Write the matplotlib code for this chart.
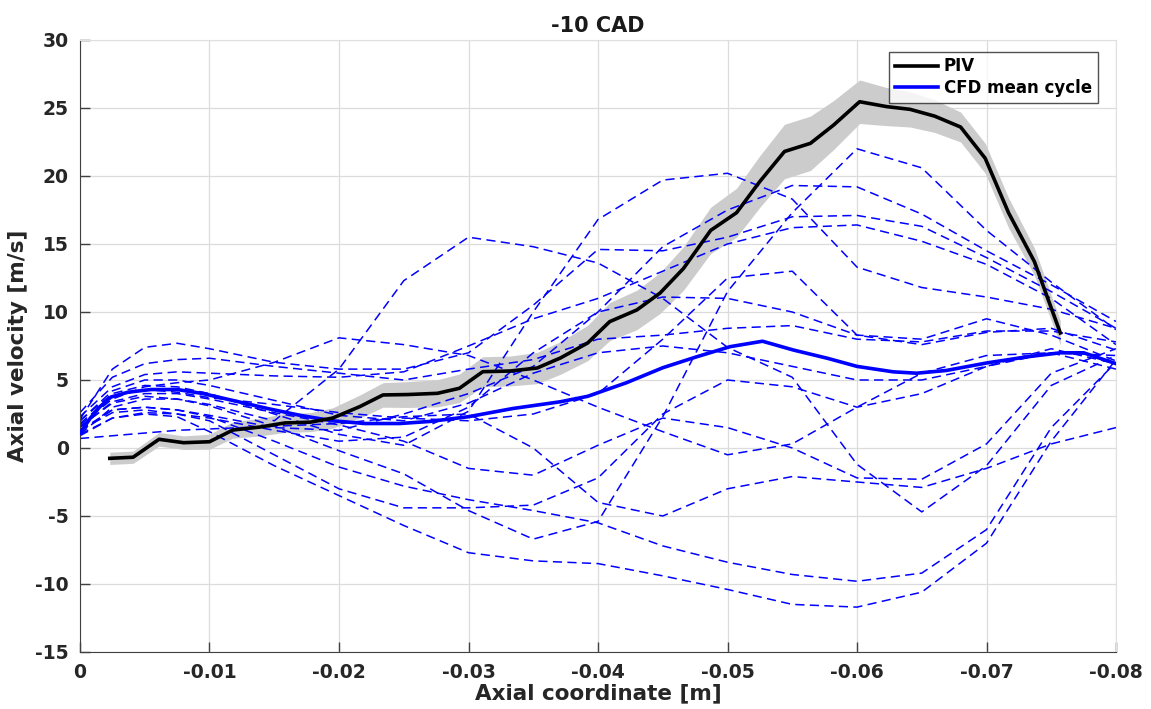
import numpy as np
import matplotlib
matplotlib.use('Agg')
import matplotlib.pyplot as plt

# PIV measurement (mean and spread)
x_piv = [-0.0023, -0.0041, -0.0061, -0.0080, -0.0100, -0.0118, -0.0139, -0.0158, -0.0178, -0.0195,
         -0.0216, -0.0234, -0.0253, -0.0276, -0.0293, -0.0311, -0.0332, -0.0353, -0.0371, -0.0392,
         -0.0409, -0.0430, -0.0448, -0.0466, -0.0487, -0.0507, -0.0525, -0.0544, -0.0564, -0.0582,
         -0.0602, -0.0623, -0.0641, -0.0660, -0.0680, -0.0699, -0.0717, -0.0737, -0.0757]
v_piv = [-0.76, -0.68, 0.64, 0.39, 0.46, 1.32, 1.54, 1.84, 1.90, 2.20,
         3.04, 3.90, 3.93, 4.02, 4.39, 5.61, 5.66, 5.88, 6.62, 7.72,
         9.29, 10.15, 11.40, 13.20, 16.00, 17.30, 19.60, 21.80, 22.40, 23.75,
         25.46, 25.10, 24.90, 24.40, 23.60, 21.30, 17.30, 13.70, 8.46]
s_piv = [0.45, 0.45, 0.50, 0.50, 0.55, 0.60, 0.65, 0.70, 0.70, 0.75,
         0.85, 0.90, 0.95, 1.00, 1.05, 1.10, 1.10, 1.15, 1.20, 1.30,
         1.40, 1.45, 1.50, 1.60, 1.70, 1.80, 1.90, 2.00, 2.00, 1.80,
         1.60, 1.40, 1.30, 1.20, 1.10, 1.10, 1.10, 1.00, 0.90]

# CFD mean cycle
x_mean = [0, -0.0008, -0.0015, -0.0024, -0.0037, -0.0055, -0.0075, -0.0095, -0.012, -0.0145,
          -0.017, -0.0195, -0.022, -0.0247, -0.027, -0.030, -0.0334, -0.0371, -0.0392, -0.0422,
          -0.045, -0.0476, -0.0502, -0.0527, -0.0551, -0.0577, -0.060, -0.0628, -0.0646, -0.0669,
          -0.070, -0.0731, -0.0757, -0.0775, -0.080]
v_mean = [1.1, 2.2, 3.0, 3.75, 4.1, 4.3, 4.3, 4.0, 3.45, 2.9,
          2.4, 2.0, 1.8, 1.8, 1.95, 2.3, 2.9, 3.4, 3.8, 4.8,
          5.9, 6.7, 7.45, 7.85, 7.2, 6.6, 6.0, 5.6, 5.5, 5.7,
          6.25, 6.7, 7.0, 7.0, 6.2]

# CFD individual cycles
x_cyc = [0, -0.0025, -0.005, -0.0075, -0.01, -0.015, -0.02, -0.025, -0.03, -0.035,
         -0.04, -0.045, -0.05, -0.055, -0.06, -0.065, -0.07, -0.075, -0.08]
cycle_01 = [1.6, 3.3, 3.8, 3.6, 3.2, 2.0, 5.8, 12.3, 15.5, 14.8, 13.6, 11.0, 7.4, 5.2, -1.2, -4.7, -1.3, 4.6, 6.8]
cycle_02 = [1.0, 3.0, 3.6, 3.6, 3.1, 1.6, -0.2, -1.9, -4.6, -6.7, -5.4, 2.3, 11.5, 17.3, 22.0, 20.6, 16.0, 12.2, 8.7]
cycle_03 = [2.0, 4.0, 4.6, 4.5, 4.0, 2.5, 1.0, 0.2, 2.7, 10.0, 16.8, 19.7, 20.2, 18.3, 13.3, 11.8, 11.1, 10.2, 8.8]
cycle_04 = [1.3, 2.8, 3.0, 2.8, 2.4, 1.5, 1.3, 2.5, 4.0, 6.0, 10.0, 14.8, 17.5, 19.3, 19.2, 17.2, 14.5, 12.0, 9.3]
cycle_05 = [2.1, 5.8, 7.4, 7.7, 7.3, 6.3, 5.8, 5.8, 7.0, 10.5, 14.6, 14.5, 15.5, 17.0, 17.1, 16.3, 14.0, 11.5, 8.8]
cycle_06 = [2.3, 4.5, 5.4, 5.6, 5.5, 5.3, 5.2, 5.6, 7.5, 9.5, 11.0, 13.0, 15.0, 16.2, 16.4, 15.2, 13.5, 11.0, 7.6]
cycle_07 = [0.9, 2.2, 2.6, 2.5, 2.2, 1.3, 0.5, 0.8, 3.0, 7.0, 10.0, 11.1, 11.0, 10.0, 8.3, 8.0, 9.5, 8.3, 6.4]
cycle_08 = [1.8, 3.8, 4.3, 4.1, 3.7, 3.2, 2.6, 2.2, 2.0, 2.5, 4.0, 8.0, 12.5, 13.0, 8.3, 7.6, 8.5, 8.8, 7.2]
cycle_09 = [1.0, 2.2, 2.5, 2.3, 1.2, -1.3, -3.5, -5.7, -7.7, -8.3, -8.5, -9.4, -10.4, -11.5, -11.7, -10.6, -7.0, 0.5, 6.5]
cycle_10 = [1.2, 2.8, 3.0, 2.8, 2.3, 0.5, -1.4, -2.8, -3.8, -4.6, -5.5, -7.2, -8.4, -9.3, -9.8, -9.2, -6.0, 1.5, 6.3]
cycle_11 = [0.7, 0.9, 1.1, 1.3, 1.4, 1.6, 1.8, 2.3, 2.5, 0.0, -4.0, -5.0, -3.0, -2.1, -2.5, -2.9, -1.5, 0.3, 1.5]
cycle_12 = [1.5, 3.4, 4.0, 4.0, 3.6, 2.6, 1.7, 0.5, -1.5, -2.0, 0.2, 2.2, 1.5, 0.0, -2.2, -2.3, 0.3, 5.5, 7.3]
cycle_13 = [2.0, 4.2, 5.0, 5.0, 4.6, 3.5, 2.4, 2.0, 3.3, 5.5, 7.0, 7.5, 7.0, 6.0, 5.0, 5.0, 6.0, 7.3, 6.2]
cycle_14 = [1.7, 3.6, 4.5, 4.8, 5.0, 6.3, 8.1, 7.6, 6.8, 5.0, 3.0, 1.2, -0.5, 0.3, 3.0, 5.5, 6.8, 7.0, 5.8]
cycle_15 = [2.6, 5.2, 6.2, 6.5, 6.6, 6.0, 5.5, 5.0, 5.8, 6.5, 8.0, 8.3, 8.8, 9.0, 8.0, 7.8, 8.6, 8.6, 7.8]
cycle_16 = [1.3, 2.6, 2.8, 2.5, 2.0, -0.5, -3.0, -4.4, -4.4, -4.2, -2.2, 2.5, 5.0, 4.5, 3.0, 4.0, 6.0, 7.0, 6.8]
cycles = [cycle_01, cycle_02, cycle_03, cycle_04, cycle_05, cycle_06, cycle_07, cycle_08,
          cycle_09, cycle_10, cycle_11, cycle_12, cycle_13, cycle_14, cycle_15, cycle_16]

x_ticks = [0, -0.01, -0.02, -0.03, -0.04, -0.05, -0.06, -0.07, -0.08]
y_ticks = [-15, -10, -5, 0, 5, 10, 15, 20, 25, 30]

plt.rcParams['font.family'] = 'DejaVu Sans'
plt.rcParams['font.weight'] = 'bold'

fig = plt.figure(figsize=(11.51, 7.09), dpi=100)
ax = fig.add_axes([0.0695, 0.0804, 0.9001, 0.8632])

xp = np.array(x_piv)
vp = np.array(v_piv)
sp = np.array(s_piv)
ax.fill_between(xp, vp - sp, vp + sp, color='#cccccc', lw=0, zorder=1)

for c in cycles:
    ax.plot(x_cyc, c, color='blue', lw=1.1, ls=(0, (6, 3.5)), zorder=2)

piv_line, = ax.plot(x_piv, v_piv, color='black', lw=2.6, zorder=4, label='PIV')
mean_line, = ax.plot(x_mean, v_mean, color='blue', lw=2.6, zorder=3, label='CFD mean cycle')

ax.set_xlim(0, -0.08)
ax.set_ylim(-15, 30)
ax.set_xticks(x_ticks)
ax.set_xticklabels(['%g' % t for t in x_ticks])
ax.set_yticks(y_ticks)
ax.set_yticklabels(['%g' % t for t in y_ticks])

ax.grid(True, color='#dcdcdc', lw=0.9)
ax.set_axisbelow(True)
ax.tick_params(direction='in', length=7, width=1, colors='#404040', labelsize=13.5,
               labelcolor='#262626', pad=8)
for s in ['left', 'bottom']:
    ax.spines[s].set_color('#404040')
for s in ['top', 'right']:
    ax.spines[s].set_color('#e0e0e0')

ax.set_xlabel('Axial coordinate [m]', fontsize=15.5, fontweight='bold', color='#262626', labelpad=1)
ax.set_ylabel('Axial velocity [m/s]', fontsize=15.5, fontweight='bold', color='#262626', labelpad=5)
ax.set_title('-10 CAD', fontsize=15, fontweight='bold', color='#1a1a1a', pad=6)

leg = ax.legend(handles=[piv_line, mean_line], loc='upper right', bbox_to_anchor=(0.9825, 0.981),
                prop={'weight': 'bold', 'size': 12}, frameon=True, fancybox=False,
                handlelength=2.6, handletextpad=0.35, borderpad=0.35, labelspacing=0.2,
                borderaxespad=0)
leg.get_frame().set_edgecolor('#262626')
leg.get_frame().set_linewidth(1.0)

fig.savefig('out.png', dpi=100)
